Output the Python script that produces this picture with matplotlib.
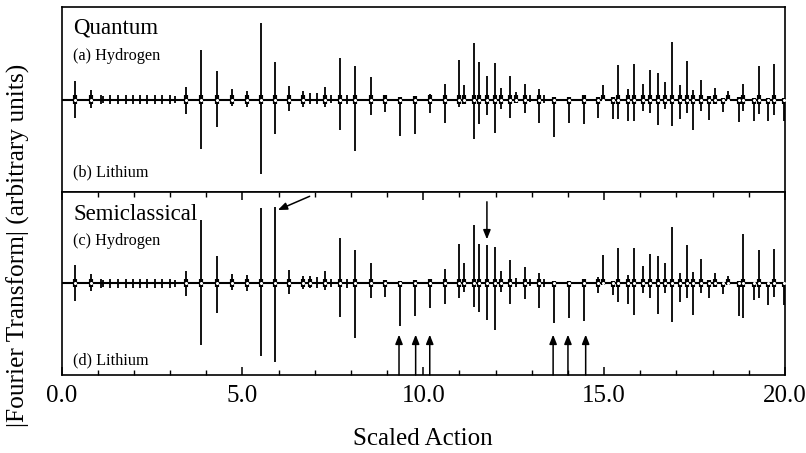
import matplotlib
matplotlib.use("Agg")
import matplotlib.pyplot as plt
from matplotlib.ticker import MultipleLocator, FixedLocator, FixedFormatter

# ---- data: recurrence peaks (scaled action) ----
action = [0.37, 0.81, 1.08, 1.15, 1.34, 1.56, 1.77, 1.97, 2.16, 2.37,
          2.58, 2.77, 3.00, 3.13, 3.44, 3.87, 4.29, 4.71, 5.12, 5.51,
          5.91, 6.30, 6.67, 6.86, 7.07, 7.28, 7.46, 7.71, 7.88, 8.12,
          8.55, 8.95, 9.35, 9.77, 10.18, 10.59, 10.99, 11.13, 11.39, 11.55,
          11.77, 11.98, 12.16, 12.39, 12.57, 12.81, 12.94, 13.19, 13.35, 13.61,
          14.03, 14.45, 14.82, 14.97, 15.25, 15.39, 15.67, 15.83, 16.07, 16.27,
          16.48, 16.68, 16.88, 17.09, 17.28, 17.46, 17.68, 17.89, 18.06, 18.28,
          18.42, 18.72, 18.85, 19.15, 19.27, 19.54, 19.70, 19.97]

# (a) quantum hydrogen (plotted upward)
quantum_hydrogen = [0.20, 0.10, 0.05, 0.04, 0.05, 0.05, 0.05, 0.05, 0.05, 0.05,
                    0.05, 0.05, 0.05, 0.04, 0.14, 0.54, 0.31, 0.11, 0.09, 0.83,
                    0.41, 0.15, 0.09, 0.07, 0.07, 0.14, 0.05, 0.45, 0.05, 0.36,
                    0.24, 0.05, 0.03, 0.04, 0.06, 0.17, 0.43, 0.16, 0.61, 0.41,
                    0.26, 0.40, 0.12, 0.26, 0.08, 0.17, 0.05, 0.11, 0.05, 0.03,
                    0.03, 0.05, 0.03, 0.16, 0.03, 0.37, 0.11, 0.39, 0.17, 0.32,
                    0.29, 0.19, 0.62, 0.16, 0.42, 0.10, 0.21, 0.04, 0.12, 0.02,
                    0.09, 0.03, 0.17, 0.02, 0.36, 0.02, 0.38, 0.02]
# (b) quantum lithium (plotted downward)
quantum_lithium = [0.20, 0.09, 0.05, 0.04, 0.05, 0.05, 0.05, 0.05, 0.05, 0.05,
                   0.05, 0.05, 0.05, 0.04, 0.16, 0.54, 0.30, 0.07, 0.08, 0.81,
                   0.37, 0.13, 0.08, 0.05, 0.05, 0.08, 0.04, 0.33, 0.05, 0.56,
                   0.17, 0.14, 0.40, 0.37, 0.15, 0.25, 0.08, 0.05, 0.43, 0.27,
                   0.17, 0.36, 0.10, 0.20, 0.04, 0.15, 0.03, 0.26, 0.04, 0.41,
                   0.26, 0.27, 0.20, 0.01, 0.21, 0.21, 0.23, 0.23, 0.12, 0.15,
                   0.28, 0.10, 0.29, 0.21, 0.15, 0.33, 0.12, 0.22, 0.05, 0.14,
                   0.02, 0.24, 0.12, 0.23, 0.16, 0.23, 0.17, 0.23]
# (c) semiclassical hydrogen (upward)
semi_hydrogen = [0.20, 0.10, 0.05, 0.04, 0.05, 0.05, 0.05, 0.05, 0.05, 0.05,
                 0.05, 0.05, 0.05, 0.04, 0.14, 0.69, 0.30, 0.10, 0.09, 0.82,
                 0.83, 0.15, 0.08, 0.08, 0.07, 0.13, 0.05, 0.50, 0.05, 0.36,
                 0.22, 0.04, 0.03, 0.04, 0.05, 0.16, 0.43, 0.22, 0.64, 0.43,
                 0.42, 0.40, 0.14, 0.25, 0.06, 0.18, 0.05, 0.11, 0.05, 0.03,
                 0.03, 0.05, 0.07, 0.31, 0.03, 0.39, 0.09, 0.39, 0.19, 0.32,
                 0.30, 0.22, 0.62, 0.11, 0.42, 0.12, 0.27, 0.04, 0.11, 0.02,
                 0.08, 0.03, 0.54, 0.02, 0.36, 0.02, 0.38, 0.02]
# (d) semiclassical lithium (downward)
semi_lithium = [0.19, 0.08, 0.05, 0.04, 0.05, 0.05, 0.05, 0.05, 0.05, 0.05,
                0.05, 0.05, 0.05, 0.04, 0.14, 0.67, 0.32, 0.07, 0.08, 0.79,
                0.86, 0.12, 0.06, 0.05, 0.05, 0.07, 0.04, 0.37, 0.05, 0.60,
                0.16, 0.15, 0.47, 0.36, 0.27, 0.22, 0.16, 0.09, 0.26, 0.31,
                0.40, 0.51, 0.09, 0.22, 0.04, 0.17, 0.03, 0.27, 0.04, 0.43,
                0.38, 0.41, 0.11, 0.02, 0.13, 0.20, 0.22, 0.34, 0.11, 0.16,
                0.33, 0.10, 0.42, 0.20, 0.16, 0.34, 0.10, 0.16, 0.04, 0.12,
                0.02, 0.36, 0.38, 0.18, 0.16, 0.24, 0.15, 0.24]

x_ticks = [0, 5, 10, 15, 20]
x_tick_labels = ["0.0", "5.0", "10.0", "15.0", "20.0"]

# arrows marking orbits
down_arrow_x = [11.76]
up_arrow_x = [9.33, 9.79, 10.18, 13.59, 14.0, 14.49]

plt.rcParams['font.family'] = ['Liberation Serif', 'DejaVu Serif']

W, H = 806, 453
fig = plt.figure(figsize=(W / 100, H / 100), dpi=100)
left, right = 61.5 / W, 785.0 / W
top_y0, top_y1 = 7.3, 191.7
bot_y0, bot_y1 = 191.7, 375.0
ax_top = fig.add_axes([left, 1 - top_y1 / H, right - left, (top_y1 - top_y0) / H])
ax_bot = fig.add_axes([left, 1 - bot_y1 / H, right - left, (bot_y1 - bot_y0) / H])


def draw_panel(ax, up, down):
    ax.set_xlim(0, 20)
    ax.set_ylim(-1, 1)
    ax.axhline(0, color='black', lw=1.5, zorder=2)
    neg = [-d for d in down]
    ax.vlines(action, neg, up, color='black', lw=1.3, zorder=3)
    # thickened body near baseline for the stronger peaks
    sel = [(a, u, d) for a, u, d in zip(action, up, down) if max(u, d) > 0.07]
    bx = [s[0] for s in sel]
    bu = [min(s[1], 0.045) for s in sel]
    bd = [-min(s[2], 0.045) for s in sel]
    ax.vlines(bx, bd, bu, color='black', lw=3.0, zorder=3)
    ax.plot(bx, [0] * len(bx), 'o', ms=2.2, mfc='white', mec='white',
            mew=0, zorder=4)
    for s in ax.spines.values():
        s.set_linewidth(1.2)


draw_panel(ax_top, quantum_hydrogen, quantum_lithium)
draw_panel(ax_bot, semi_hydrogen, semi_lithium)

ax_top.set_xticks([])
ax_top.set_yticks([])
ax_bot.set_yticks([])
ax_bot.xaxis.set_major_locator(FixedLocator(x_ticks))
ax_bot.xaxis.set_major_formatter(FixedFormatter(x_tick_labels))
ax_bot.xaxis.set_minor_locator(MultipleLocator(1))
ax_bot.tick_params(axis='x', which='major', direction='in', length=6, width=1.1,
                   top=True, labelsize=18, pad=7)
ax_bot.tick_params(axis='x', which='minor', direction='in', length=3.5, width=1.0,
                   top=True)
ax_bot.set_xlabel("Scaled Action", fontsize=18, labelpad=15)

fig.text(18 / W, 1 - 245 / H, "|Fourier Transform| (arbitrary units)",
         rotation=90, ha='center', va='center', fontsize=18.3)

# panel annotations
ax_top.text(0.016, 0.86, "Quantum", transform=ax_top.transAxes, fontsize=16.5,
            va='baseline', ha='left')
ax_top.text(0.016, 0.714, "(a) Hydrogen", transform=ax_top.transAxes, fontsize=11.7,
            va='baseline', ha='left')
ax_top.text(0.016, 0.085, "(b) Lithium", transform=ax_top.transAxes, fontsize=11.7,
            va='baseline', ha='left')
ax_bot.text(0.016, 0.845, "Semiclassical", transform=ax_bot.transAxes, fontsize=16.5,
            va='baseline', ha='left')
ax_bot.text(0.016, 0.71, "(c) Hydrogen", transform=ax_bot.transAxes, fontsize=11.7,
            va='baseline', ha='left')
ax_bot.text(0.016, 0.06, "(d) Lithium", transform=ax_bot.transAxes, fontsize=11.7,
            va='baseline', ha='left')

arrow_props = dict(arrowstyle='-|>,head_length=0.55,head_width=0.22',
                   color='black', lw=1.1, shrinkA=0, shrinkB=0)
for xa in down_arrow_x:
    ax_bot.annotate("", xy=(xa, 0.48), xytext=(xa, 0.89), arrowprops=arrow_props)
for xa in up_arrow_x:
    ax_bot.annotate("", xy=(xa, -0.56), xytext=(xa, -1.0), arrowprops=arrow_props)
ax_bot.annotate("", xy=(5.98, 0.80), xytext=(6.86, 0.95), arrowprops=arrow_props)

fig.savefig("out.png", dpi=100)
